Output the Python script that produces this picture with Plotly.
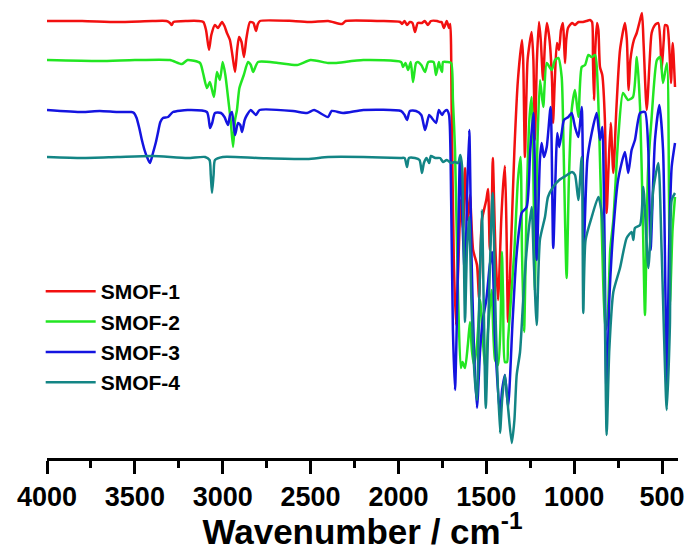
import plotly.graph_objects as go

# Wavenumber (cm^-1) and transmittance (a.u., stacked offsets)
wn_1 = [4000, 3800, 3600, 3400, 3320, 3300, 3290, 3280, 3200, 3140, 3110, 3095, 3078, 3065, 3044, 3027, 3004, 2990, 2976, 2959,
        2945, 2930, 2918, 2907, 2893, 2879, 2865, 2845, 2825, 2811, 2800, 2788, 2600, 2500, 2400, 2321, 2300, 2100, 1990, 1980,
        1965, 1951, 1935, 1920, 1906, 1890, 1866, 1850, 1832, 1815, 1780, 1763, 1754, 1741, 1725, 1712, 1705, 1697, 1685, 1672,
        1660, 1645, 1632, 1621, 1605, 1593, 1575, 1553, 1541, 1525, 1500, 1490, 1480, 1470, 1463, 1448, 1433, 1415, 1404, 1394,
        1385, 1376, 1360, 1340, 1320, 1297, 1290, 1280, 1265, 1242, 1232, 1223, 1212, 1200, 1190, 1177, 1165, 1155, 1140, 1126,
        1120, 1110, 1098, 1086, 1075, 1064, 1058, 1052, 1045, 1035, 1012, 995, 975, 950, 930, 910, 898, 893, 887, 880,
        870, 862, 853, 840, 825, 815, 805, 792, 777, 760, 739, 711, 700, 690, 680, 660, 644, 625, 614, 605,
        587, 570, 559, 540, 521, 510, 502, 490, 483, 470, 458, 449, 439, 426]
t_1 = [437, 437, 436, 437, 437, 435, 433, 436, 437, 437, 436, 428, 408, 423, 433, 430, 436, 432, 425, 418,
       403, 386, 408, 421, 416, 401, 420, 436, 435, 427, 434, 437, 437, 436, 437, 434, 437, 437, 436, 434,
       437, 433, 436, 435, 426, 435, 435, 437, 433, 437, 437, 436, 436, 430, 437, 430, 434, 348, 198, 133,
       188, 258, 228, 290, 238, 263, 208, 193, 160, 238, 258, 269, 208, 238, 300, 208, 158, 238, 273, 292,
       228, 136, 208, 308, 378, 418, 398, 301, 398, 426, 398, 318, 398, 436, 418, 378, 418, 435, 418, 378,
       335, 378, 415, 408, 428, 435, 418, 395, 418, 430, 435, 433, 436, 436, 437, 438, 436, 398, 358, 408,
       435, 428, 391, 383, 338, 245, 288, 335, 285, 348, 408, 435, 418, 368, 398, 418, 425, 438, 445, 415,
       348, 398, 425, 433, 435, 418, 388, 418, 433, 432, 408, 375, 415, 371]

wn_2 = [4000, 3700, 3500, 3300, 3232, 3200, 3129, 3112, 3090, 3073, 3050, 3033, 3016, 3000, 2985, 2970, 2955, 2941, 2930, 2919,
        2905, 2880, 2856, 2840, 2827, 2799, 2685, 2577, 2500, 2401, 2361, 2200, 1985, 1974, 1960, 1945, 1930, 1917, 1900, 1889,
        1870, 1849, 1830, 1800, 1786, 1770, 1763, 1752, 1746, 1723, 1700, 1690, 1678, 1660, 1645, 1635, 1621, 1605, 1593, 1582,
        1570, 1553, 1535, 1520, 1505, 1490, 1470, 1450, 1433, 1420, 1411, 1404, 1394, 1382, 1376, 1360, 1340, 1320, 1305, 1297,
        1285, 1270, 1255, 1242, 1230, 1223, 1210, 1194, 1176, 1156, 1128, 1109, 1090, 1071, 1060, 1043, 1030, 1014, 995, 976,
        957, 938, 919, 900, 880, 865, 850, 835, 822, 810, 795, 777, 750, 722, 693, 665, 643, 625, 608, 597,
        580, 560, 529, 511, 494, 472, 460, 455, 440, 426]
t_2 = [398, 397, 398, 398, 394, 398, 395, 385, 370, 376, 361, 386, 378, 396, 383, 361, 338, 311, 338, 348,
       370, 383, 396, 393, 386, 396, 395, 393, 398, 395, 395, 398, 396, 391, 395, 388, 396, 376, 395, 396,
       393, 386, 396, 396, 383, 396, 391, 386, 396, 396, 395, 358, 308, 158, 90, 96, 90, 113, 136, 108,
       93, 113, 158, 118, 88, 128, 168, 98, 93, 128, 206, 158, 96, 96, 118, 158, 208, 278, 301, 208,
       126, 258, 338, 361, 258, 168, 308, 378, 351, 395, 388, 398, 400, 381, 308, 180, 278, 348, 368, 341,
       391, 393, 403, 401, 403, 368, 278, 178, 128, 138, 208, 238, 318, 365, 358, 361, 401, 351, 228, 143,
       285, 338, 398, 401, 375, 395, 258, 153, 228, 261]

wn_3 = [4000, 3800, 3700, 3600, 3520, 3505, 3490, 3475, 3460, 3445, 3431, 3414, 3397, 3380, 3369, 3355, 3340, 3311, 3283, 3200,
        3090, 3072, 3060, 3044, 3010, 2990, 2970, 2958, 2947, 2930, 2913, 2900, 2890, 2875, 2862, 2840, 2811, 2790, 2600, 2520,
        2480, 2401, 2380, 2315, 2200, 1985, 1965, 1951, 1935, 1900, 1870, 1849, 1840, 1825, 1810, 1786, 1770, 1752, 1741, 1725,
        1712, 1700, 1690, 1678, 1665, 1650, 1640, 1621, 1610, 1597, 1585, 1570, 1553, 1535, 1520, 1500, 1480, 1467, 1450, 1422,
        1410, 1394, 1376, 1350, 1330, 1310, 1299, 1270, 1250, 1232, 1213, 1195, 1185, 1172, 1156, 1134, 1119, 1096, 1085, 1071,
        1058, 1033, 1014, 995, 976, 957, 945, 925, 900, 872, 853, 840, 830, 815, 800, 777, 750, 711, 692, 673,
        654, 625, 597, 578, 565, 540, 515, 494, 480, 472, 460, 445, 426]
t_3 = [348, 346, 347, 346, 346, 345, 340, 330, 318, 308, 301, 295, 305, 316, 325, 336, 340, 341, 346, 348,
       346, 330, 335, 345, 345, 341, 333, 343, 346, 323, 335, 333, 326, 338, 343, 348, 343, 348, 347, 345,
       348, 341, 347, 345, 348, 347, 343, 338, 347, 347, 343, 328, 333, 343, 340, 335, 348, 343, 346, 348,
       343, 258, 128, 68, 158, 301, 258, 178, 258, 328, 208, 108, 50, 108, 138, 158, 193, 206, 118, 43,
       68, 83, 51, 138, 198, 233, 245, 251, 308, 345, 198, 298, 315, 301, 311, 351, 210, 325, 311, 325,
       338, 341, 345, 331, 321, 351, 213, 298, 325, 345, 318, 331, 258, 58, 158, 228, 278, 306, 285, 308,
       318, 345, 346, 308, 208, 318, 353, 308, 158, 73, 208, 291, 315]

wn_4 = [4000, 3800, 3600, 3400, 3200, 3100, 3075, 3068, 3061, 3052, 3044, 3000, 2800, 2520, 2400, 2200, 1990, 1965, 1951, 1940,
        1906, 1880, 1866, 1855, 1840, 1825, 1815, 1790, 1763, 1746, 1725, 1700, 1680, 1660, 1648, 1638, 1628, 1621, 1610, 1597,
        1585, 1565, 1553, 1540, 1525, 1515, 1503, 1485, 1464, 1445, 1422, 1410, 1394, 1375, 1355, 1340, 1327, 1308, 1290, 1270,
        1242, 1230, 1213, 1195, 1166, 1149, 1120, 1085, 1040, 1012, 995, 976, 957, 948, 935, 900, 862, 843, 830, 815,
        800, 777, 739, 701, 673, 663, 654, 625, 606, 578, 550, 521, 502, 473, 455, 445, 426]
t_4 = [301, 300, 301, 302, 300, 301, 298, 283, 265, 283, 298, 301, 300, 299, 301, 301, 300, 300, 291, 300,
       300, 298, 285, 295, 300, 295, 302, 300, 300, 296, 298, 295, 296, 295, 303, 292, 208, 136, 208, 241,
       158, 78, 58, 158, 248, 158, 50, 158, 265, 128, 25, 58, 83, 48, 15, 38, 83, 106, 158, 208,
       251, 198, 133, 218, 241, 261, 271, 278, 283, 286, 283, 258, 301, 145, 218, 241, 261, 245, 198, 23,
       108, 166, 190, 220, 226, 218, 230, 233, 271, 190, 268, 295, 206, 48, 133, 258, 265]

names = ["SMOF-1", "SMOF-2", "SMOF-3", "SMOF-4"]
colors = ["#f21010", "#22e622", "#1414e0", "#138585"]
series = [(wn_1, t_1), (wn_2, t_2), (wn_3, t_3), (wn_4, t_4)]

font_family = "Liberation Sans, Arial, sans-serif"

fig = go.Figure()
for (x, y), name, c in zip(series, names, colors):
    fig.add_trace(go.Scatter(x=x, y=y, mode="lines", name=name,
                             line=dict(color=c, width=2.5, shape="spline", smoothing=0.6),
                             legendgroup=name))

fig.update_layout(
    width=687, height=551,
    margin=dict(l=47, r=9, t=0, b=93),
    paper_bgcolor="white", plot_bgcolor="white",
    showlegend=True,
    legend=dict(x=-0.01, y=0.408, xanchor="left", yanchor="top",
                font=dict(family=font_family, size=21, color="black", weight="bold"),
                bgcolor="rgba(0,0,0,0)", borderwidth=0, tracegroupgap=0,
                itemwidth=50),
    xaxis=dict(range=[4000, 409], showgrid=False, zeroline=False,
               showline=True, linecolor="black", linewidth=3,
               ticks="outside", ticklen=13, tickwidth=2.5, tickcolor="black",
               tick0=0, dtick=500,
               minor=dict(ticks="outside", ticklen=7, tickwidth=2.5, tickcolor="black", dtick=250),
               tickfont=dict(family=font_family, size=27, color="black", weight="bold"),
               title=dict(text="Wavenumber / cm<sup>-1</sup>", standoff=7,
                          font=dict(family=font_family, size=35, color="black", weight="bold"))),
    yaxis=dict(range=[0, 458], visible=False, showgrid=False, zeroline=False),
)

fig.write_html("out.html")
